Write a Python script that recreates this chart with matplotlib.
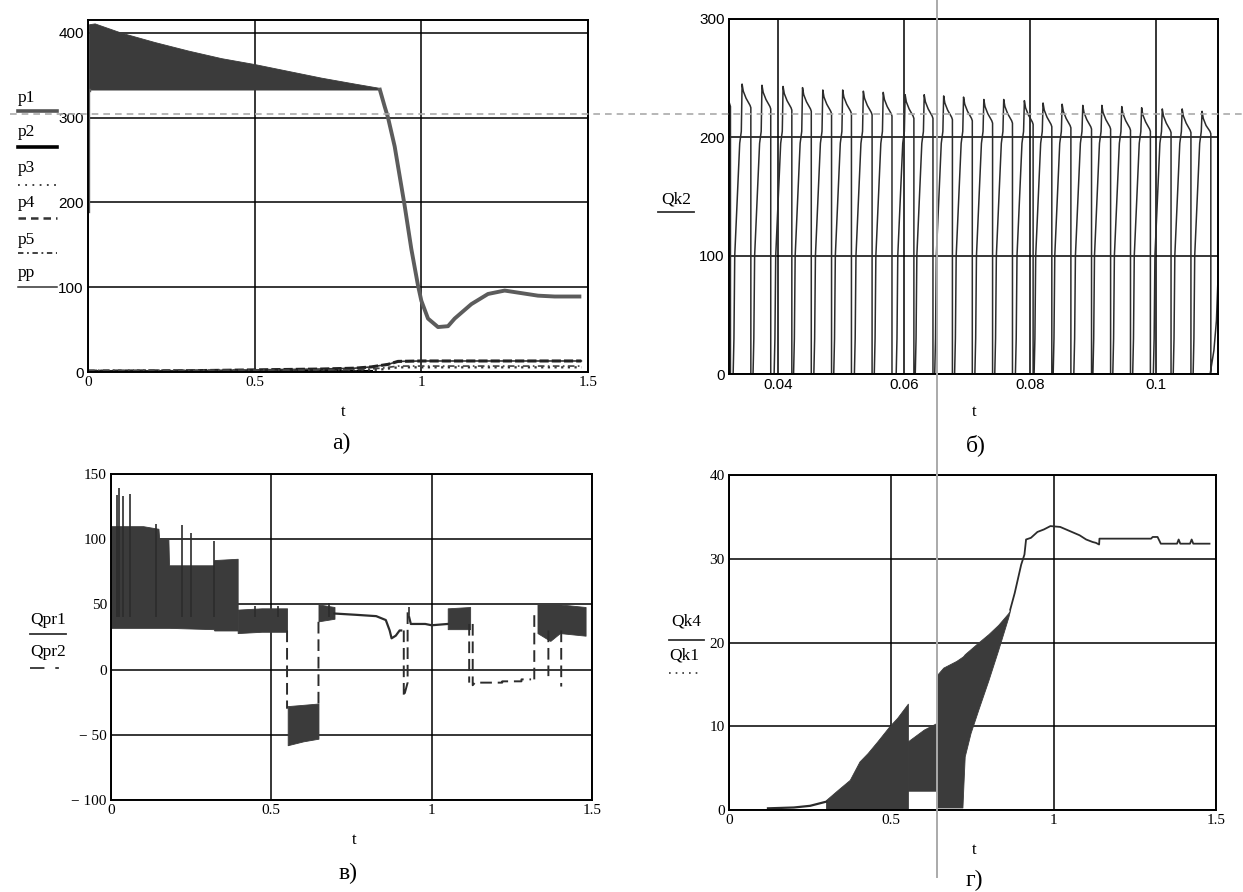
import numpy as np
import matplotlib
matplotlib.use("Agg")
import matplotlib.pyplot as plt
from matplotlib.lines import Line2D

W, H = 1243, 892
BAND = "#3b3b3b"
INK = "#2c2c2c"

# ---------- panel a: pressures ----------
a_start_t = [0.0, 0.0, 0.003]
a_start_v = [190, 333, 333]
a_band_t = [0.003, 0.02, 0.1, 0.2, 0.3, 0.4, 0.5, 0.6, 0.7, 0.8, 0.874]
a_band_hi = [410, 411, 400, 389, 379, 370, 363, 355, 347, 340, 335]
a_band_lo = [333, 333, 333, 333, 333, 333, 333, 333, 333, 333, 333]
a_p1_t = [0.874, 0.89, 0.9, 0.92, 0.95, 0.97, 0.99, 1.0, 1.02, 1.05, 1.08,
          1.1, 1.15, 1.2, 1.25, 1.3, 1.35, 1.4, 1.48]
a_p1_v = [335, 313, 300, 266, 196, 145, 102, 84, 63, 53, 54,
          63, 80, 92, 96, 93, 90, 89, 89]
a_low_t = [0, 0.3, 0.5, 0.7, 0.8, 0.85, 0.9, 0.93, 1.0, 1.2, 1.48]
a_low_v = [1, 1.5, 2.5, 3.5, 4.5, 6, 9, 12.5, 13, 13, 13]
a_dot_t = [0, 0.8, 0.88, 0.93, 1.48]
a_dot_v = [0.5, 1, 3, 5.5, 5.5]
a_base_t = [0, 0.85]
a_base_v = [0.8, 0.8]

# ---------- panel b: Qk2 pulses ----------
b_period = 0.00316
b_head_t = [0.03217, 0.0324, 0.0324]
b_head_v = [230, 226, 0]
b_peak_t = [0.03425, 0.03741, 0.04076, 0.04385, 0.04707, 0.05023, 0.05351, 0.05667,
            0.06015, 0.06318, 0.06627, 0.06943, 0.07265, 0.07581, 0.07909, 0.08206,
            0.08509, 0.08837, 0.09140, 0.09456, 0.09772, 0.10100, 0.10416, 0.10732]
b_peak_v = [245, 244, 243, 242, 240, 240, 239, 238, 236, 236, 235, 234,
            232, 232, 231, 229, 228, 227, 227, 226, 225, 224, 224, 222]
b_end_v = [227, 226, 225, 224, 222, 222, 221, 220, 218, 218, 217, 216,
           214, 214, 213, 211, 210, 209, 209, 208, 207, 206, 206, 205]
b_rise_dt = [-0.45, -0.41, -0.37, -0.24, -0.12, -0.04]
b_rise_v = [0, 30, 100, 150, 195, 205]
b_tail_t = [0.1086, 0.1092, 0.1096, 0.1099]
b_tail_v = [0, 20, 45, 88]

# ---------- panel c: Qpr1 / Qpr2 ----------
c_bands = [
    ([0, 0.1, 0.148, 0.15, 0.179, 0.181, 0.32, 0.322, 0.395],
     [110, 110, 108, 101, 100, 80, 80, 84, 85],
     [32, 32, 32, 32, 32, 32, 31, 30, 30]),
    ([0.395, 0.47, 0.549], [46, 47, 47], [28, 29, 29]),
    ([0.551, 0.6, 0.647], [-28, -27, -26], [-58, -55, -53]),
    ([0.647, 0.697], [50, 48], [37, 39]),
    ([1.05, 1.12], [47, 48], [31, 31]),
    ([1.33, 1.37, 1.4, 1.48], [50, 50, 50, 48], [28, 22, 28, 26]),
]
c_spike_t = [0.018, 0.025, 0.037, 0.06, 0.14, 0.22, 0.25, 0.32, 0.45, 0.52, 0.68, 0.93]
c_spike_v = [134, 139, 133, 135, 112, 111, 105, 99, 49, 49, 51, 48]
c_q1_t = [0.697, 0.765, 0.827, 0.857, 0.869, 0.875, 0.888, 0.9, 0.905, np.nan,
          0.93, 0.935, 0.98, 1.0, 1.05]
c_q1_v = [43, 42, 41, 38, 30, 24, 26, 30, 30, np.nan, 40, 35, 35, 34, 35]
c_q2_t = [0.549, 0.549, np.nan, 0.647, 0.647, np.nan, 0.913, 0.913, 0.925, 0.925, np.nan,
          1.117, 1.117, np.nan, 1.128, 1.128, 1.135, 1.22, 1.22, 1.28, 1.28, 1.31, np.nan,
          1.32, 1.32, np.nan, 1.364, 1.364, np.nan, 1.404, 1.404]
c_q2_v = [30, -30, np.nan, -26, 38, np.nan, 30, -21, -10, 47, np.nan,
          35, -10, np.nan, 35, -12, -10, -10, -9, -9, -7.5, -7.5, np.nan,
          -7.5, 45, np.nan, 30, -5, np.nan, 30, -13]

# ---------- panel d: Qk4 / Qk1 ----------
d_base_t = [0.12, 0.2, 0.25, 0.3]
d_base_v = [0.2, 0.3, 0.5, 1.0]
d_band1_t = [0.299, 0.335, 0.372, 0.402, 0.427, 0.457, 0.494, 0.518, 0.551]
d_band1_hi = [1.2, 2.4, 3.6, 5.8, 6.8, 8.2, 10, 11, 12.7]
d_band1_lo = [0.1, 0.1, 0.1, 0.1, 0.1, 0.1, 0.1, 0.1, 0.1]
d_band2_t = [0.551, 0.6, 0.64]
d_band2_hi = [8.2, 9.6, 10.4]
d_band2_lo = [2.3, 2.3, 2.3]
d_band3_t = [0.64, 0.66, 0.70, 0.719, 0.722, 0.726, 0.744, 0.768, 0.799, 0.829, 0.86, 0.866]
d_band3_hi = [16.1, 17, 17.8, 18.3, 18.4, 18.6, 19.2, 20, 21, 22.1, 23.5, 23.9]
d_band3_lo = [0.3, 0.3, 0.3, 0.3, 3, 6.4, 9.2, 12, 15.5, 19.1, 23, 23.9]
d_q4_t = [0.866, 0.88, 0.9, 0.91, 0.915, 0.93, 0.95, 0.97, 0.99, 1.02, 1.05, 1.08,
          1.1, 1.12, 1.13, 1.14, 1.141, 1.15, 1.3, 1.305, 1.32, 1.33, 1.335, 1.38,
          1.385, 1.39, 1.42, 1.425, 1.43, 1.48]
d_q4_v = [23.9, 25.9, 29.3, 30.5, 32.3, 32.5, 33.2, 33.5, 33.9, 33.8, 33.3, 32.8,
          32.3, 32.0, 31.9, 31.7, 32.4, 32.4, 32.4, 32.6, 32.6, 31.8, 31.8, 31.8,
          32.3, 31.8, 31.8, 32.3, 31.8, 31.8]


def px_axes(fig, x0, y0, x1, y1):
    return fig.add_axes([x0 / W, 1 - y1 / H, (x1 - x0) / W, (y1 - y0) / H])


def style(ax, xlim, ylim, xt, xl, yt, yl, xfont="Liberation Serif", yfont="Liberation Serif"):
    ax.set_xlim(*xlim)
    ax.set_ylim(*ylim)
    ax.set_xticks(xt)
    ax.set_xticklabels(xl, family=xfont, fontsize=11)
    ax.set_yticks(yt)
    ax.set_yticklabels(yl, family=yfont, fontsize=11)
    ax.tick_params(length=0, pad=3)
    ax.grid(True, color="black", lw=1.1)
    ax.set_axisbelow(True)
    for s in ax.spines.values():
        s.set_linewidth(1.4)


def ftext(fig, x, y, s, size=12, family="Liberation Serif", **kw):
    fig.text(x / W, 1 - y / H, s, fontsize=size, family=family,
             ha=kw.pop("ha", "center"), va=kw.pop("va", "center"), **kw)


def fline(fig, x0, x1, y, **kw):
    fig.add_artist(Line2D([x0 / W, x1 / W], [1 - y / H, 1 - y / H],
                          transform=fig.transFigure, **kw))


fig = plt.figure(figsize=(W / 100, H / 100), dpi=100)
fig.patch.set_facecolor("white")

# ---- a
ax = px_axes(fig, 88, 20, 588, 372)
style(ax, (0, 1.5), (0, 415), [0, 0.5, 1, 1.5], ["0", "0.5", "1", "1.5"],
      [0, 100, 200, 300, 400], ["0", "100", "200", "300", "400"], yfont="Liberation Sans")
ax.plot(a_start_t, a_start_v, color="#5c5c5c", lw=2.4)
ax.fill_between(a_band_t, a_band_lo, a_band_hi, color=BAND, lw=0.6)
ax.plot(a_p1_t, a_p1_v, color="#5c5c5c", lw=2.8, solid_capstyle="butt")
ax.plot(a_base_t, a_base_v, color="black", lw=2.2)
ax.plot(a_low_t, a_low_v, color="#333333", lw=1.2)
ax.plot(a_low_t, a_low_v, color="#222222", lw=2.2, ls=(0, (3, 1)))
ax.plot(a_dot_t, a_dot_v, color="#333333", lw=1.6, ls=(0, (1, 2)))
ax.plot(a_dot_t, [v + 1.5 for v in a_dot_v], color="#444444", lw=1.2, ls=(0, (4, 2, 1, 2)))
ftext(fig, 343, 412, "t", 12)
ftext(fig, 341, 443, "а)", 17)
labels_a = [("p1", 98, 111, dict(color="#555555", lw=2.6)),
            ("p2", 132, 147, dict(color="black", lw=2.6)),
            ("p3", 168, 185, dict(color="#333333", lw=1.3, ls=(0, (1, 3)))),
            ("p4", 203, 218, dict(color="#333333", lw=1.8, ls=(0, (3, 2)))),
            ("p5", 240, 253, dict(color="#333333", lw=1.3, ls=(0, (3, 2, 1, 2)))),
            ("pp", 273, 287, dict(color="#333333", lw=1.1))]
for name, ty, ly, kw in labels_a:
    ftext(fig, 18, ty, name, 12.5, ha="left")
    fline(fig, 18, 57, ly, **kw)

# ---- b
ax = px_axes(fig, 729, 19, 1218, 374)
style(ax, (0.03217, 0.10985), (0, 300), [0.04, 0.06, 0.08, 0.1],
      ["0.04", "0.06", "0.08", "0.1"], [0, 100, 200, 300], ["0", "100", "200", "300"],
      xfont="Liberation Sans", yfont="Liberation Sans")
bt, bv = list(b_head_t), list(b_head_v)
for tp, pk, en in zip(b_peak_t, b_peak_v, b_end_v):
    for dt, lv in zip(b_rise_dt, b_rise_v):
        bt.append(tp + dt * b_period)
        bv.append(lv)
    bt += [tp, tp + 0.06 * b_period, tp + 0.2 * b_period, tp + 0.4 * b_period,
           tp + 0.44 * b_period, tp + 0.44 * b_period]
    bv += [pk, pk - 6, pk - 12, en, en - 2, 0]
bt += b_tail_t
bv += b_tail_v
ax.plot(bt, bv, color=INK, lw=1.1)
ftext(fig, 974, 412, "t", 12)
ftext(fig, 976, 445, "б)", 17)
ftext(fig, 676, 199, "Qk2", 12.5)
fline(fig, 658, 694, 212, color="#333333", lw=1.3)

# ---- c
ax = px_axes(fig, 111, 474, 592, 800)
style(ax, (0, 1.5), (-100, 150), [0, 0.5, 1, 1.5], ["0", "0.5", "1", "1.5"],
      [-100, -50, 0, 50, 100, 150], ["− 100", "− 50", "0", "50", "100", "150"])
for t, hi, lo in c_bands:
    ax.fill_between(t, lo, hi, color=BAND, lw=0.6)
ax.vlines(c_spike_t, 40, c_spike_v, color=INK, lw=1.2)
ax.plot(c_q1_t, c_q1_v, color=INK, lw=1.6)
ax.plot(c_q2_t, c_q2_v, color=INK, lw=1.4, ls=(0, (6, 3)))
ftext(fig, 354, 840, "t", 12)
ftext(fig, 348, 873, "в)", 17)
ftext(fig, 48, 620, "Qpr1", 12.5)
fline(fig, 30, 66, 634, color="#333333", lw=1.3)
ftext(fig, 48, 652, "Qpr2", 12.5)
fline(fig, 30, 66, 668, color="#333333", lw=1.3, ls=(0, (8, 6, 2, 6)))

# ---- d
ax = px_axes(fig, 729, 475, 1216, 810)
style(ax, (0, 1.5), (0, 40), [0, 0.5, 1, 1.5], ["0", "0.5", "1", "1.5"],
      [0, 10, 20, 30, 40], ["0", "10", "20", "30", "40"])
ax.plot(d_base_t, d_base_v, color=INK, lw=1.6)
ax.fill_between(d_band1_t, d_band1_lo, d_band1_hi, color=BAND, lw=0.6)
ax.fill_between(d_band2_t, d_band2_lo, d_band2_hi, color=BAND, lw=0.6)
ax.fill_between(d_band3_t, d_band3_lo, d_band3_hi, color=BAND, lw=0.6)
ax.plot(d_q4_t, d_q4_v, color=INK, lw=1.3)
ftext(fig, 974, 850, "t", 12)
ftext(fig, 974, 880, "г)", 17)
ftext(fig, 686, 622, "Qk4", 12.5)
fline(fig, 669, 704, 640, color="#333333", lw=1.3)
ftext(fig, 684, 656, "Qk1", 12.5)
fline(fig, 669, 700, 673, color="#333333", lw=1.2, ls=(0, (1, 3)))

# overlay guide lines seen on the scan
fline(fig, 10, W, 114, color="#aaaaaa", lw=1.2, ls=(0, (4, 3)))
fig.add_artist(Line2D([937 / W, 937 / W], [1.0, 1 - 877 / H],
                      transform=fig.transFigure, color="#aaaaaa", lw=1.4))

fig.savefig("out.png", dpi=100, facecolor="white")
